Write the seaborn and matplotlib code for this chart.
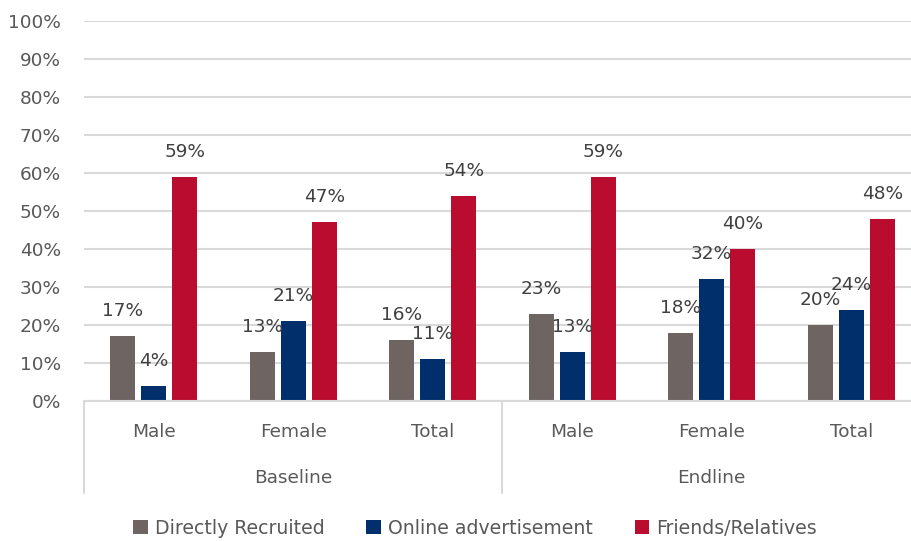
import matplotlib
matplotlib.use("Agg")
import matplotlib.pyplot as plt
import matplotlib.transforms as mtransforms
from matplotlib.patches import Patch
import seaborn as sns
import pandas as pd

# Survey recruitment channels by period and respondent group (percent)
periods = ["Baseline", "Endline"]
groups = ["Male", "Female", "Total"]
series = ["Directly Recruited", "Online advertisement", "Friends/Relatives"]
directly_recruited = [17, 13, 16, 23, 18, 20]
online_advertisement = [4, 21, 11, 13, 32, 24]
friends_relatives = [59, 47, 54, 59, 40, 48]
y_ticks = [0, 10, 20, 30, 40, 50, 60, 70, 80, 90, 100]

colors = ["#6E6563", "#002F6C", "#BA0C2F"]
FS = 13.3

keys = [f"{p}|{g}" for p in periods for g in groups]
rows = []
for name, vals in zip(series, [directly_recruited, online_advertisement, friends_relatives]):
    for k, v in zip(keys, vals):
        rows.append({"category": k, "series": name, "value": v})
df = pd.DataFrame(rows)

sns.set_theme(style="white")
plt.rcParams["font.family"] = ["DejaVu Sans"]

fig = plt.figure(figsize=(9.12, 5.41), dpi=100)
ax = fig.add_axes([84 / 912, 140 / 541, 837 / 912, 380 / 541])

sns.barplot(data=df, x="category", y="value", hue="series", order=keys,
            hue_order=series, palette=colors, width=0.667, gap=0.2,
            saturation=1, legend=False, ax=ax, errorbar=None, linewidth=0)

ax.set_xlim(-0.5, len(keys) - 0.5)
ax.set_ylim(0, 100)
ax.set_yticks(y_ticks)
ax.set_yticklabels([f"{t}%" for t in y_ticks], color="#595959", fontsize=FS)
ax.tick_params(axis="y", length=0, pad=16.5)
ax.yaxis.grid(True, color="#D9D9D9", linewidth=1.5)
ax.set_axisbelow(True)
for s in ["top", "right", "left"]:
    ax.spines[s].set_visible(False)
ax.spines["bottom"].set_color("#D9D9D9")
ax.spines["bottom"].set_linewidth(1.5)
ax.set_xlabel("")
ax.set_ylabel("")

# Inner category labels
ax.set_xticks(range(len(keys)))
ax.set_xticklabels([k.split("|")[1] for k in keys], color="#595959", fontsize=FS)
ax.tick_params(axis="x", length=0, pad=16)

trans = mtransforms.blended_transform_factory(ax.transData, ax.transAxes)
# Outer period labels and separators
for i, p in enumerate(periods):
    ax.text(i * 3 + 1, -77 / 380, p, transform=trans, ha="center", va="center",
            color="#595959", fontsize=FS)
for xpos in [-0.5, 2.5, 5.5]:
    ax.plot([xpos, xpos], [0, -92 / 380], transform=trans, color="#D9D9D9",
            linewidth=1.5, clip_on=False)

# Value labels above bars
for container in ax.containers:
    for bar in container:
        h = bar.get_height()
        ax.annotate(f"{h:.0f}%", (bar.get_x() + bar.get_width() / 2, h),
                    xytext=(0, 18), textcoords="offset points",
                    ha="center", va="center", color="#404040", fontsize=FS)

handles = [Patch(facecolor=c, edgecolor="none") for c in colors]
fig.legend(handles, series, loc="center", bbox_to_anchor=(0.521, 0.024),
           ncol=3, frameon=False, handlelength=0.75, handleheight=0.75,
           handletextpad=0.4, columnspacing=2.2,
           prop={"size": 13.6}, labelcolor="#595959")

fig.savefig("out.png", dpi=100)
